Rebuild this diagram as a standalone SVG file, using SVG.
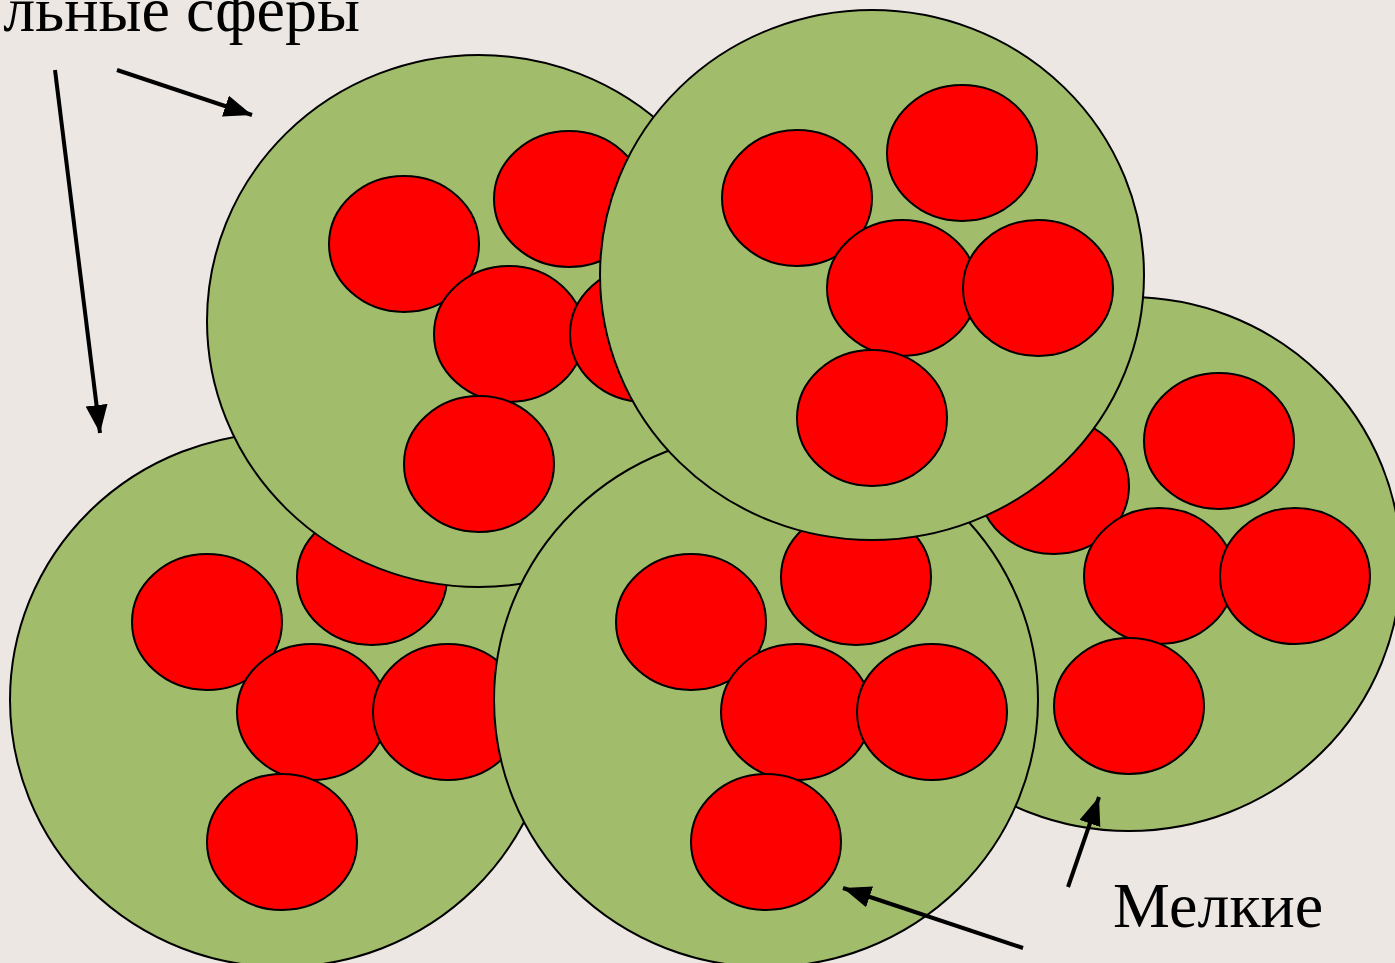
<svg xmlns="http://www.w3.org/2000/svg" xmlns:xlink="http://www.w3.org/1999/xlink" width="1395" height="963" viewBox="0 0 1395 963">
<style>
.big{fill:#A1BC6B;stroke:#000;stroke-width:2}
.red{fill:#FF0000;stroke:#000;stroke-width:2}
.arr{stroke:#000;stroke-width:4;fill:none}
.lbl{font-family:"Liberation Serif","Times New Roman",serif;font-size:64px;fill:#000}
</style>
<defs>
<marker id="ah" markerUnits="userSpaceOnUse" markerWidth="30" markerHeight="24" refX="28" refY="11" orient="auto">
<path d="M0,0 L28,11 L0,22 Z" fill="#000"/>
</marker>
<g id="cluster">
<ellipse class="red" cx="-75" cy="-78" rx="75" ry="68"/>
<ellipse class="red" cx="90" cy="-123" rx="75" ry="68"/>
<ellipse class="red" cx="30" cy="12" rx="75" ry="68"/>
<ellipse class="red" cx="166" cy="12" rx="75" ry="68"/>
<ellipse class="red" cx="0" cy="142" rx="75" ry="68"/>
</g>
</defs>
<rect width="1395" height="963" fill="#ECE7E3"/>
<g id="sphere-bottom-left">
<ellipse class="big" cx="282" cy="700" rx="272" ry="267"/>
<use xlink:href="#cluster" href="#cluster" x="282" y="700"/>
</g>
<g id="sphere-right">
<ellipse class="big" cx="1129" cy="564" rx="272" ry="267"/>
<use xlink:href="#cluster" href="#cluster" x="1129" y="564"/>
</g>
<g id="sphere-top-left">
<ellipse class="big" cx="479" cy="321" rx="272" ry="266"/>
<use xlink:href="#cluster" href="#cluster" x="479" y="322"/>
</g>
<g id="sphere-bottom-middle">
<ellipse class="big" cx="766" cy="700" rx="272" ry="267"/>
<use xlink:href="#cluster" href="#cluster" x="766" y="700"/>
</g>
<g id="sphere-top-right">
<ellipse class="big" cx="872" cy="275" rx="272" ry="265"/>
<use xlink:href="#cluster" href="#cluster" x="872" y="276"/>
</g>
<g id="connectors">
<line class="arr" x1="55" y1="70" x2="100" y2="433" marker-end="url(#ah)"/>
<line class="arr" x1="117" y1="70" x2="252" y2="115" marker-end="url(#ah)"/>
<line class="arr" x1="1068" y1="887" x2="1099" y2="797" marker-end="url(#ah)"/>
<line class="arr" x1="1023" y1="948" x2="843" y2="888" marker-end="url(#ah)"/>
</g>
<g id="labels">
<text class="lbl" x="360" y="31" text-anchor="end">льные сферы</text>
<text class="lbl" x="1113" y="927">Мелкие</text>
</g>
</svg>
